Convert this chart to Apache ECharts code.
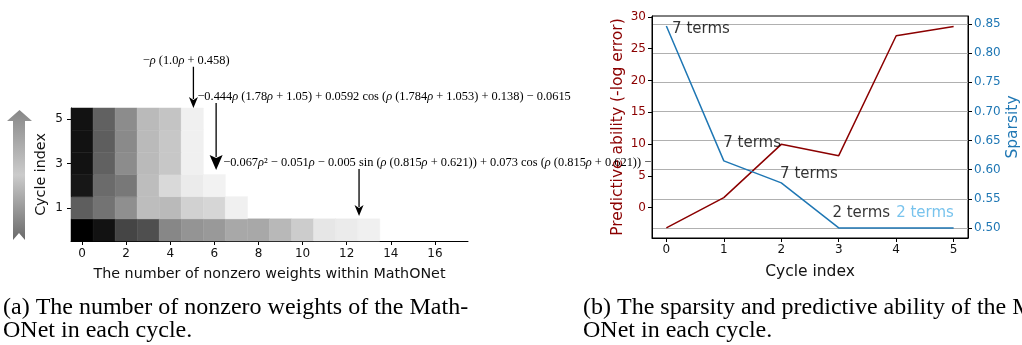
<!DOCTYPE html>
<html>
<head>
<meta charset="utf-8">
<script src="https://cdn.jsdelivr.net/npm/echarts@6/dist/echarts.min.js"></script>
<style>
  html, body { margin: 0; padding: 0; background: #fff; }
  #main { width: 1022px; height: 345px; }
</style>
</head>
<body>
<div id="main"></div>
<script>
// (a) darkness of each nonzero weight, one row per cycle (0 = white, 1 = black)
var row0 = [1.0, 0.93, 0.73, 0.69, 0.47, 0.42, 0.40, 0.34, 0.34, 0.28, 0.20, 0.10, 0.08, 0.06];
var row1 = [0.63, 0.55, 0.44, 0.26, 0.27, 0.18, 0.16, 0.06];
var row2 = [0.91, 0.58, 0.53, 0.26, 0.15, 0.08, 0.05];
var row3 = [0.93, 0.62, 0.45, 0.27, 0.22, 0.06];
var row4 = [0.93, 0.63, 0.46, 0.27, 0.22, 0.06];
var row5 = [0.93, 0.62, 0.45, 0.27, 0.23, 0.06];
var heatRows = [row0, row1, row2, row3, row4, row5];

var weightTicks = [0, 2, 4, 6, 8, 10, 12, 14, 16];
var cycleTicksA = [1, 3, 5];

// formula annotations: arrow x, arrow start y, arrow tip y, text x, text y
var formulaText = [
  '−ρ (1.0ρ + 0.458)',
  '−0.444ρ (1.78ρ + 1.05) + 0.0592 cos (ρ (1.784ρ + 1.053) + 0.138) − 0.0615',
  '−0.067ρ² − 0.051ρ − 0.005 sin (ρ (0.815ρ + 0.621)) + 0.073 cos (ρ (0.815ρ + 0.621)) −'
];
var arrowX = [5.05, 6.08, 12.56];
var arrowFromY = [7.36, 5.72, 2.75];
var arrowToY = [5.5, 2.7, 0.63];
var formulaX = [4.72, 5.23, 6.4];
var formulaY = [7.62, 6.0, 3.02];
var formulaAlign = ['center', 'left', 'left'];
var headSize = [[9, 11], [13, 15], [9, 11]];

// (b) predictive ability and sparsity per cycle
var cycles = [0, 1, 2, 3, 4, 5];
var predictive = [-3.2, 1.57, 9.95, 8.17, 27.04, 28.5];
var sparsity = [0.8466, 0.6151, 0.5773, 0.5, 0.5, 0.5];
var predTicks = [0, 5, 10, 15, 20, 25, 30];
var sparTicks = [0.50, 0.55, 0.60, 0.65, 0.70, 0.75, 0.80, 0.85];

var termText = ['7 terms', '7 terms', '7 terms', '2 terms', '2 terms'];
var termX = [0.1, 0.99, 1.98, 2.89, 4.0];
var termY = [0.841, 0.6455, 0.592, 0.526, 0.526];
var termColor = ['#000', '#000', '#000', '#000', '#56B4E9'];

var heatData = [];
heatRows.forEach(function (r, y) {
  r.forEach(function (v, x) { heatData.push([x, y, v]); });
});
var annData = arrowX.map(function (x, i) {
  return [x, arrowFromY[i], arrowToY[i], formulaX[i], formulaY[i]];
});
var predData = cycles.map(function (c, i) { return [c, predictive[i]]; });
var sparData = cycles.map(function (c, i) { return [c, sparsity[i]]; });
var termData = termX.map(function (x, i) {
  return { value: [x, termY[i]], label: { formatter: termText[i], color: termColor[i] } };
});

var sans = 'DejaVu Sans';
var serif = 'Liberation Serif';

function tickAxis(extra) {
  var base = {
    type: 'value',
    axisLine: { show: true, onZero: false, lineStyle: { color: '#000', width: 1 } },
    axisTick: { show: true, length: 4, lineStyle: { color: '#000' } },
    axisLabel: { fontFamily: sans, fontSize: 12, color: '#111' },
    splitLine: { show: false },
    nameTextStyle: { fontFamily: sans, fontSize: 14.3, color: '#111' }
  };
  for (var k in extra) {
    if (typeof extra[k] === 'object' && base[k] && !Array.isArray(extra[k])) {
      base[k] = Object.assign({}, base[k], extra[k]);
    } else {
      base[k] = extra[k];
    }
  }
  return base;
}

var chart = echarts.init(document.getElementById('main'));
chart.setOption({
  animation: false,
  backgroundColor: '#fff',
  grid: [
    { left: 71, top: 108, width: 397, height: 133 },
    { left: 652, top: 16, width: 319, height: 222, show: true, borderColor: '#000', borderWidth: 1, backgroundColor: 'transparent' }
  ],
  visualMap: {
    type: 'continuous', show: false, seriesIndex: 0, dimension: 2,
    min: 0, max: 1, inRange: { color: ['#ffffff', '#000000'] }
  },
  xAxis: [
    tickAxis({
      gridIndex: 0, min: -0.5, max: 17.5,
      axisTick: { customValues: weightTicks },
      axisLabel: { customValues: weightTicks, margin: 7 },
      name: 'The number of nonzero weights within MathONet',
      nameLocation: 'middle', nameGap: 26
    }),
    tickAxis({
      gridIndex: 1, min: -0.25, max: 5.25,
      axisTick: { customValues: cycles },
      axisLabel: { customValues: cycles, margin: 6 },
      name: 'Cycle index', nameLocation: 'middle', nameGap: 26,
      nameTextStyle: { fontSize: 15.5 }
    })
  ],
  yAxis: [
    tickAxis({
      gridIndex: 0, min: -0.5, max: 5.5,
      axisTick: { customValues: cycleTicksA },
      axisLabel: { customValues: cycleTicksA, margin: 8 },
      name: 'Cycle index', nameLocation: 'middle', nameGap: 23
    }),
    tickAxis({
      gridIndex: 1, position: 'left', min: -4.79, max: 30.15,
      axisTick: { customValues: predTicks },
      axisLabel: { customValues: predTicks, color: '#8b0000', margin: 6 },
      name: 'Predictive ability (-log error)', nameLocation: 'middle', nameGap: 26,
      nameTextStyle: { color: '#8b0000', fontSize: 15.5 }
    }),
    tickAxis({
      gridIndex: 1, position: 'right', min: 0.4827, max: 0.8639,
      axisTick: { customValues: sparTicks },
      axisLabel: {
        customValues: sparTicks, color: '#1f77b4', margin: 6,
        formatter: function (v) { return v.toFixed(2); }
      },
      splitLine: { show: true, lineStyle: { color: '#b0b0b0', width: 1 } },
      name: 'Sparsity', nameLocation: 'middle', nameGap: 37,
      nameTextStyle: { color: '#1f77b4', fontSize: 15.5 }
    })
  ],
  series: [
    {
      type: 'custom', xAxisIndex: 0, yAxisIndex: 0, data: heatData,
      renderItem: function (params, api) {
        var x = api.value(0), y = api.value(1);
        var p0 = api.coord([x - 0.5, y + 0.5]);
        var p1 = api.coord([x + 0.5, y - 0.5]);
        var c = api.visual('color');
        return {
          type: 'rect',
          shape: { x: p0[0], y: p0[1], width: p1[0] - p0[0], height: p1[1] - p0[1] },
          style: { fill: c, stroke: c, lineWidth: 0.5 }
        };
      }
    },
    {
      type: 'custom', xAxisIndex: 0, yAxisIndex: 0, data: annData, clip: false, z: 5,
      renderItem: function (params, api) {
        var i = params.dataIndex;
        var a = api.coord([api.value(0), api.value(1)]);
        var b = api.coord([api.value(0), api.value(2)]);
        var t = api.coord([api.value(3), api.value(4)]);
        var h = headSize[i];
        var txt = formulaText[i].replace(/ρ/g, '{i|ρ}');
        return {
          type: 'group',
          children: [
            { type: 'line', shape: { x1: a[0], y1: a[1], x2: b[0], y2: b[1] - h[1] + 2 },
              style: { stroke: '#000', lineWidth: 1.3 } },
            { type: 'polygon',
              shape: { points: [[b[0] - h[0] / 2, b[1] - h[1]], [b[0], b[1] - h[1] + 3], [b[0] + h[0] / 2, b[1] - h[1]], [b[0], b[1]]] },
              style: { fill: '#000' } },
            { type: 'text', x: t[0], y: t[1],
              style: {
                text: txt, align: formulaAlign[i], verticalAlign: 'middle',
                fontFamily: serif, fontSize: 12.4, fill: '#000',
                rich: { i: { fontFamily: serif, fontSize: 12.4, fontStyle: 'italic' } }
              } }
          ]
        };
      }
    },
    {
      type: 'line', xAxisIndex: 1, yAxisIndex: 1, data: predData,
      symbol: 'none', lineStyle: { color: '#8b0000', width: 1.5 }, z: 3
    },
    {
      type: 'line', xAxisIndex: 1, yAxisIndex: 2, data: sparData,
      symbol: 'none', lineStyle: { color: '#1f77b4', width: 1.5 }, z: 3
    },
    {
      type: 'scatter', xAxisIndex: 1, yAxisIndex: 2, data: termData,
      symbolSize: 0, silent: true, z: 4,
      label: { show: true, position: 'right', distance: 0, fontFamily: sans, fontSize: 15, color: '#000' }
    }
  ],
  graphic: [
    {
      type: 'polygon', z: 10,
      shape: { points: [[19.5, 110], [32, 121], [25, 121], [25, 240], [19, 233], [13, 240], [13, 121], [7, 121]] },
      style: {
        fill: new echarts.graphic.LinearGradient(0, 0, 0, 1, [
          { offset: 0, color: '#878787' },
          { offset: 0.5, color: '#cbcbcb' },
          { offset: 1, color: '#6a6a6a' }
        ])
      }
    },
    { type: 'text', left: 3, top: 296, style: { text: '(a) The number of nonzero weights of the Math-', fontFamily: serif, fontSize: 24, fill: '#000' } },
    { type: 'text', left: 3, top: 319, style: { text: 'ONet in each cycle.', fontFamily: serif, fontSize: 24, fill: '#000' } },
    { type: 'text', left: 583, top: 296, style: { text: '(b) The sparsity and predictive ability of the Math-', fontFamily: serif, fontSize: 24, fill: '#000' } },
    { type: 'text', left: 583, top: 319, style: { text: 'ONet in each cycle.', fontFamily: serif, fontSize: 24, fill: '#000' } }
  ]
});
</script>
</body>
</html>
